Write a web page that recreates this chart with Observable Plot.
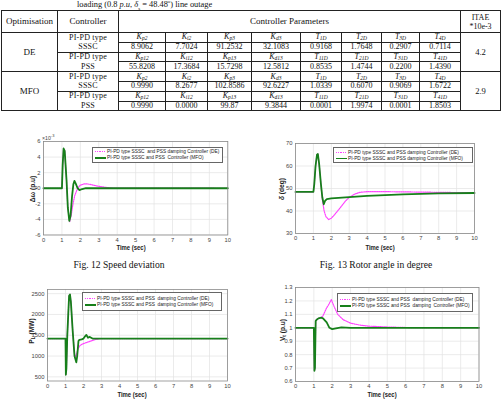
<!DOCTYPE html>
<html>
<head>
<meta charset="utf-8">
<script src="https://cdn.jsdelivr.net/npm/d3@7"></script>
<script src="https://cdn.jsdelivr.net/npm/@observablehq/plot@0.6"></script>
<style>
  html, body { margin: 0; padding: 0; background: #fff; }
  #root { position: relative; width: 501px; height: 415px; overflow: hidden; background: #fff; }
  .abs { position: absolute; white-space: nowrap; }
  .serif { font-family: 'Liberation Serif', 'Times New Roman', serif; color: #111; }
  .sans { font-family: 'Liberation Sans', Arial, sans-serif; }
  #tbl { position: absolute; left: 1px; top: 10px; border-collapse: collapse; table-layout: fixed;
         font-family: 'Liberation Serif', 'Times New Roman', serif; color: #111; }
  #tbl td { padding: 0; text-align: center; vertical-align: middle; border: 1px solid #222; overflow: hidden; white-space: nowrap; }
  #tbl tr.h td { height: 21px; font-size: 9px; line-height: 9px; }
  #tbl tr.s td { height: 8.8px; font-size: 8px; line-height: 8px; }
  #tbl td.lab { font-size: 8px; }
  #tbl td.ctl { font-size: 8.6px; letter-spacing: 0.2px; }
  #tbl td.ctl.a { border-bottom: none; }
  #tbl td.ctl.b { border-top: none; }
  #tbl sub { font-size: 5.5px; line-height: 0; vertical-align: -0.2em; }
  #tbl tr.sep td { border-top: 1.6px solid #111; }
  .leg { position: absolute; border: 0.8px solid #666; background: #fff; box-sizing: border-box;
         font-family: 'Liberation Sans', Arial, sans-serif; font-size: 4.8px; color: #222; padding: 1.5px 2px; }
  .leg .row { height: 6.2px; line-height: 6.2px; white-space: nowrap; }
  .leg .sw { display: inline-block; width: 11px; vertical-align: middle; margin-right: 1px; }
  .leg .sw.de { height: 1.1px; background: repeating-linear-gradient(to right, #ff44ff 0 1.2px, transparent 1.2px 2.2px); }
  .leg .sw.mfo { height: 1.6px; background: #16801a; }
  .axl { position: absolute; font-family: 'Liberation Sans', Arial, sans-serif; font-weight: bold; font-size: 6.6px; color: #222; white-space: nowrap; }
  .axl sub { font-size: 4.8px; vertical-align: -0.3em; line-height: 0; }
</style>
</head>
<body>
<div id="root"></div>
<script>
// ---------------- Table data ----------------
const headers = ["Optimisation", "Controller", "Controller Parameters", "ITAE<br>*10e-3"];
const methods = ["DE", "MFO"];
const itae = ["4.2", "2.9"];
const controllers = ["SSSC", "PSS"];
const labelsSSSC = [["K","p2"],["K","i2"],["K","p3"],["K","d3"],["T","1D"],["T","2D"],["T","3D"],["T","4D"]];
const labelsPSS  = [["K","p12"],["K","i12"],["K","p13"],["K","d13"],["T","11D"],["T","21D"],["T","31D"],["T","41D"]];
const deSSSC  = ["8.9062","7.7024","91.2532","32.1083","0.9168","1.7648","0.2907","0.7114"];
const dePSS   = ["55.8208","17.3684","15.7298","12.5812","0.8535","1.4744","0.2200","1.4390"];
const mfoSSSC = ["0.9990","8.2677","102.8586","92.6227","1.0339","0.6070","0.9069","1.6722"];
const mfoPSS  = ["0.9990","0.0000","99.87","9.3844","0.0001","1.9974","0.0001","1.8503"];

// ---------------- Chart data ----------------
const xTicks = [0,1,2,3,4,5,6,7,8,9,10];

// Fig 12: speed deviation (x 10^-3 p.u)
const speedTimeDE  = [0,1.0,1.04,1.09,1.15,1.25,1.32,1.42,1.5,1.6,1.7,1.8,1.9,2.0,2.2,2.4,2.7,3.0,3.4,3.8,10];
const speedDE      = [0,0,3.0,5.1,4.8,1.0,-2.5,-4.3,-3.5,-2.0,-0.9,-0.3,0.15,0.4,0.55,0.55,0.4,0.25,0.1,0.02,0];
const speedTimeMFO = [0,1.0,1.04,1.09,1.15,1.25,1.32,1.4,1.47,1.55,1.62,1.68,1.75,1.85,1.95,2.1,2.3,10];
const speedMFO     = [0,0,3.0,5.1,4.8,1.0,-2.5,-4.2,-3.5,-1.0,0.5,0.95,0.6,0,-0.25,-0.1,0,0];

// Fig 13: rotor angle (deg)
const angleTimeDE  = [0,1.0,1.05,1.12,1.2,1.25,1.32,1.42,1.5,1.6,1.7,1.85,2.0,2.2,2.5,2.8,3.0,3.3,3.6,4,5,7,10];
const angleDE      = [48.5,48.5,52,60,65,65.3,61,52,45,40,37.5,36.2,36.8,38.5,41.5,44.5,46,47.5,48.3,48.6,48.6,48.4,48.1];
const angleTimeMFO = [0,1.0,1.05,1.12,1.2,1.25,1.32,1.42,1.5,1.58,1.65,1.75,2.0,3.0,4,6,8,10];
const angleMFO     = [48.5,48.5,52,60,65,65.3,61,52,46,43,44.5,45.3,45.6,46.2,46.7,47.4,47.8,48.0];

// Fig 14: line power (MW)
const powerTimeDE  = [0,1.0,1.02,1.05,1.1,1.2,1.25,1.3,1.4,1.5,1.57,1.62,1.7,1.8,1.9,2.0,2.2,2.4,2.6,2.8,3.0,10];
const powerDE      = [1420,1420,550,700,1500,2450,2480,2300,1600,1050,980,1060,1180,1250,1280,1300,1330,1360,1390,1410,1420,1420];
const powerTimeMFO = [0,1.0,1.02,1.05,1.1,1.2,1.25,1.3,1.4,1.5,1.6,1.65,1.72,1.77,1.9,2.0,2.1,2.16,2.25,2.35,2.5,10];
const powerMFO     = [1420,1420,550,700,1500,2450,2480,2300,1600,1000,850,1000,1360,1390,1400,1420,1480,1510,1440,1460,1420,1420];

// Fig 15: terminal voltage (p.u)
const voltTimeDE  = [0,1.0,1.03,1.06,1.1,1.15,1.25,1.4,1.5,1.6,1.7,1.8,1.95,2.1,2.3,2.6,3,3.5,4,5,6,10];
const voltDE      = [1,1,0.68,0.7,1.05,1.06,1.07,1.075,1.09,1.12,1.15,1.17,1.21,1.16,1.1,1.06,1.035,1.02,1.012,1.006,1.002,1.0];
const voltTimeMFO = [0,1.0,1.03,1.06,1.1,1.15,1.25,1.4,1.5,1.7,1.85,2.0,2.2,2.5,3,10];
const voltMFO     = [1,1,0.68,0.7,1.05,1.06,1.07,1.075,1.07,1.04,1.0,0.99,0.995,1.003,1.0,1.0];

const legend1 = ["PI-PD type SSSC\u00a0 and PSS damping Controller (DE)", "PI-PD type SSSC and PSS\u00a0 Controller (MFO)"];
const legend2 = ["PI-PD type SSSC and PSS damping Controller (DE)", "PI-PD type SSSC and PSS damping Controller (MFO)"];
const legend3 = ["PI-PD type SSSC and PSS\u00a0 damping Controller (DE)", "PI-PD type SSSC and PSS\u00a0 damping Controller (MFO)"];
const legend4 = ["PI-PD type SSSC and PSS\u00a0 damping Controller (DE)", "PI-PD type SSSC and PSS\u00a0 damping\u00a0 Controller (MFO)"];

const root = document.getElementById("root");

function addHTML(html, cls, style) {
  const d = document.createElement("div");
  d.className = cls;
  d.innerHTML = html;
  Object.assign(d.style, style);
  root.appendChild(d);
  return d;
}

// ---------------- Title line ----------------
addHTML("loading (0.8 <i>p.u</i>, <i>δ</i><sub style='font-size:5px;line-height:0'>s</sub> = 48.48<sup style='font-size:5px;line-height:0'>o</sup>) line outage",
  "abs serif", {left: "77px", top: "0px", fontSize: "8.4px", lineHeight: "9px"});

// ---------------- Table ----------------
const colW = [56, 61, 47, 42, 44, 49, 41, 40, 38, 41, 40];
function labHTML(l) { return `<i>${l[0]}</i><sub><i>${l[1]}</i></sub>`; }
let t = `<table id="tbl"><colgroup>${colW.map(w => `<col style="width:${w}px">`).join("")}</colgroup>`;
t += `<tr class="h"><td>${headers[0]}</td><td>${headers[1]}</td><td colspan="8">${headers[2]}</td><td style="font-size:8px;line-height:9px">${headers[3]}</td></tr>`;
const blocks = [[deSSSC, dePSS], [mfoSSSC, mfoPSS]];
methods.forEach((m, mi) => {
  blocks[mi].forEach((vals, ci) => {
    const labels = ci === 0 ? labelsSSSC : labelsPSS;
    const sepCls = (mi === 1 && ci === 0) ? " sep" : "";
    t += `<tr class="s${sepCls}">`;
    if (ci === 0) t += `<td rowspan="4" style="font-size:9px">${m}</td>`;
    t += `<td class="ctl a">PI-PD type</td>`;
    t += labels.map(l => `<td class="lab">${labHTML(l)}</td>`).join("");
    if (ci === 0) t += `<td rowspan="4" style="font-size:8.6px">${itae[mi]}</td>`;
    t += `</tr><tr class="s"><td class="ctl b">${controllers[ci]}</td>`;
    t += vals.map(v => `<td>${v}</td>`).join("");
    t += `</tr>`;
  });
});
t += `</table>`;
root.insertAdjacentHTML("beforeend", t);

// ---------------- Charts ----------------
const green = "#16801a", magenta = "#ff44ff";
function chart(cfg) {
  const [x0, y0, x1, y1] = cfg.frame;
  const mL = 30, mT = 8, mR = 10, mB = 14;
  const left = x0 - mL, top = y0 - mT;
  const width = (x1 - x0) + mL + mR, height = (y1 - y0) + mT + mB;
  const de = cfg.deT.map((tt, i) => ({t: tt, v: cfg.de[i]}));
  const mfo = cfg.mfoT.map((tt, i) => ({t: tt, v: cfg.mfo[i]}));
  const svg = Plot.plot({
    width, height, marginLeft: mL, marginTop: mT, marginRight: mR, marginBottom: mB,
    x: {domain: [0, 10]},
    y: {domain: cfg.ydom},
    style: {fontFamily: "'Liberation Sans', Arial, sans-serif", fontSize: "5.8px", color: "#444", background: "transparent", overflow: "visible"},
    marks: [
      Plot.gridX(xTicks, {stroke: "#e2e2e2", strokeOpacity: 1, strokeWidth: 0.7}),
      Plot.gridY(cfg.yticks, {stroke: "#e2e2e2", strokeOpacity: 1, strokeWidth: 0.7}),
      Plot.axisX({ticks: xTicks, tickSize: 0, tickPadding: 2.5, label: null, tickFormat: d => String(d)}),
      Plot.axisY({ticks: cfg.yticks, tickSize: 0, tickPadding: 3, label: null, tickFormat: cfg.fmt}),
      Plot.line(de, {x: "t", y: "v", stroke: magenta, strokeWidth: 1.2, strokeDasharray: "1.2,1"}),
      Plot.line(mfo, {x: "t", y: "v", stroke: green, strokeWidth: 1.8}),
      Plot.frame({stroke: "#8a8a8a", strokeWidth: 0.8})
    ]
  });
  svg.style.position = "absolute";
  svg.style.left = left + "px";
  svg.style.top = top + "px";
  root.appendChild(svg);

  // legend
  const [lx, ly, lw, lh] = cfg.legBox;
  addHTML(`<div class="row"><span class="sw de"></span>${cfg.legend[0]}</div><div class="row"><span class="sw mfo"></span>${cfg.legend[1]}</div>`,
    "leg", {left: lx + "px", top: ly + "px", width: lw + "px", height: lh + "px", paddingTop: cfg.legPad + "px"});
  // y label
  addHTML(cfg.ylabel, "axl", {left: cfg.ylPos[0] + "px", top: cfg.ylPos[1] + "px", transform: "translate(-50%,-50%) rotate(-90deg)"});
  // x label
  addHTML("Time (sec)", "axl", {left: cfg.xlPos[0] + "px", top: cfg.xlPos[1] + "px", transform: "translate(-50%,-50%) scaleX(0.9)"});
}

const fmt1 = d => String(+d.toFixed(1));
chart({frame: [42.7, 141, 227, 234.5], ydom: [-6, 6], yticks: [-6,-4,-2,0,2,4,6], fmt: d => String(d),
  deT: speedTimeDE, de: speedDE, mfoT: speedTimeMFO, mfo: speedMFO,
  legend: legend1, legBox: [92, 147, 131, 15.5], legPad: 1.2,
  ylabel: "Δω (p.u)", ylPos: [32, 189], xlPos: [131, 246.7]});
chart({frame: [295, 143, 474, 233], ydom: [30, 70], yticks: [30,40,50,60,70], fmt: d => String(d),
  deT: angleTimeDE, de: angleDE, mfoT: angleTimeMFO, mfo: angleMFO,
  legend: legend2, legBox: [333, 147, 140, 16], legPad: 1.5,
  ylabel: "<i>δ</i> (deg)", ylPos: [280.5, 189], xlPos: [380, 246.7]});
chart({frame: [46.7, 288.5, 226.7, 380], ydom: [400, 2600], yticks: [500,1000,1500,2000,2500], fmt: d => String(d),
  deT: powerTimeDE, de: powerDE, mfoT: powerTimeMFO, mfo: powerMFO,
  legend: legend3, legBox: [82, 292, 140, 19], legPad: 3,
  ylabel: "P<sub>L</sub> (MW)", ylPos: [30.5, 331], xlPos: [132.3, 394]});
chart({frame: [294.5, 286.5, 478, 380.5], ydom: [0.6, 1.3], yticks: [0.6,0.7,0.8,0.9,1.0,1.1,1.2,1.3], fmt: fmt1,
  deT: voltTimeDE, de: voltDE, mfoT: voltTimeMFO, mfo: voltMFO,
  legend: legend4, legBox: [337, 293, 136, 18.5], legPad: 3,
  ylabel: "V<sub>t</sub> (p.u)", ylPos: [282, 330], xlPos: [382, 394]});

// x10^-3 multiplier
addHTML("×10<sup style='font-size:4px'>-3</sup>", "abs sans", {left: "42px", top: "133px", fontSize: "5.2px", color: "#444", lineHeight: "6px"});

// captions
addHTML("Fig. 12 Speed deviation", "abs serif", {left: "119px", top: "263.5px", fontSize: "9.6px", transform: "translate(-50%,-50%)"});
addHTML("Fig. 13 Rotor angle in degree", "abs serif", {left: "376px", top: "263.5px", fontSize: "9.6px", transform: "translate(-50%,-50%)"});
</script>
</body>
</html>
